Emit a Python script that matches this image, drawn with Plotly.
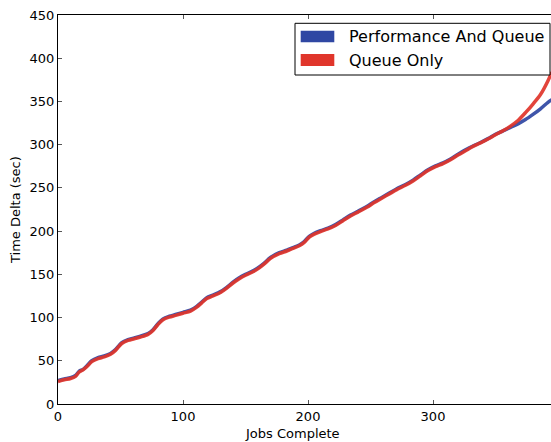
import plotly.graph_objects as go

# Jobs completed (x) and cumulative time delta in seconds for each scheduler
jobs = [0, 5, 10, 14, 17, 20, 23, 27, 32, 37, 42, 46, 51, 56, 61, 66, 72, 76, 80, 84,
        89, 94, 100, 106, 111, 115, 119, 124, 130, 135, 140, 145, 150, 156, 161, 165,
        170, 177, 183, 188, 193, 197, 201, 205, 210, 216, 222, 228, 234, 240, 247, 253,
        259, 265, 271, 278, 284, 290, 296, 302, 308, 314, 320, 326, 332, 338, 344, 350,
        356, 362, 368, 374, 380, 386, 392, 395]

perf_and_queue = [27, 29, 30.5, 33, 38, 40, 44, 50, 53.5, 55.5, 58.5, 63, 71, 74.5, 76.5,
                  78.5, 81.5, 86, 93, 98.5, 101.5, 103.5, 106, 108.5, 113, 118, 123, 126,
                  130, 135, 141, 146, 150, 154, 158.5, 163, 169.5, 175, 178, 181, 184, 188,
                  194, 197.5, 200.5, 203.5, 207.5, 213, 218.5, 223, 228.5, 234, 239, 244,
                  249, 254, 259, 265, 271, 275.5, 279, 283.5, 289, 294, 298.5, 302.5, 307,
                  312, 316, 320, 324, 329, 335, 341.5, 349, 352]

queue_only = [26, 28, 29.5, 32, 37, 39.5, 43, 49, 52.5, 54.5, 57.5, 62, 70, 73.5, 75.5,
              77.5, 80.5, 85, 92, 97.5, 100.5, 102.5, 105, 107.5, 112, 117, 122, 125,
              129, 134, 140, 145, 149, 153, 157.5, 162, 168.5, 174, 177, 180, 183, 187,
              193, 196.5, 199.5, 202.5, 206.5, 212, 217.5, 222, 227.5, 233, 238, 243,
              248, 253, 258, 264, 270, 274.5, 278, 282.5, 288, 293, 298, 302, 306.5,
              311.5, 316, 321.5, 328, 337, 347, 358, 374, 384]

series_names = ["Performance And Queue", "Queue Only"]
colors = ["#2f47a3", "#e0352b"]

x_ticks = [0, 100, 200, 300]
y_ticks = [0, 50, 100, 150, 200, 250, 300, 350, 400, 450]

FONT = "DejaVu Sans"

fig = go.Figure()
for name, ys, col in zip(series_names, [perf_and_queue, queue_only], colors):
    fig.add_trace(go.Scatter(
        x=jobs, y=ys, mode="lines", name=name,
        line=dict(color=col, width=3.5, shape="spline", smoothing=0.8),
        opacity=0.92, showlegend=False,
    ))

W, H = 551, 442
L, R, T, B = 58, 0, 15, 38
pw, ph = W - L - R, H - T - B


def px_x(p):
    return (p - L) / pw


def px_y(p):
    return (H - B - p) / ph


fig.update_layout(
    width=W, height=H,
    margin=dict(l=L, r=R, t=T, b=B),
    paper_bgcolor="white", plot_bgcolor="white",
    font=dict(family=FONT, size=13, color="black"),
    xaxis=dict(
        range=[0, 394.4], tickvals=x_ticks, ticktext=[str(v) for v in x_ticks],
        ticks="inside", ticklen=4, tickcolor="#555", tickwidth=1,
        showline=True, linecolor="black", linewidth=1, mirror="ticks",
        showgrid=False, zeroline=False,
        tickfont=dict(family=FONT, size=13, color="black"),
    ),
    yaxis=dict(
        range=[0, 450], tickvals=y_ticks, ticktext=[str(v) for v in y_ticks],
        ticks="inside", ticklen=4, tickcolor="#555", tickwidth=1,
        showline=True, linecolor="black", linewidth=1,
        showgrid=False, zeroline=False,
        tickfont=dict(family=FONT, size=13, color="black"),
    ),
)

# axis titles
fig.add_annotation(text="Jobs Complete", xref="paper", yref="paper",
                   x=px_x(292.5), y=px_y(433), xanchor="center", yanchor="middle",
                   showarrow=False, font=dict(family=FONT, size=13, color="black"))
fig.add_annotation(text="Time Delta (sec)", xref="paper", yref="paper",
                   x=px_x(16), y=px_y(210), xanchor="center", yanchor="middle",
                   textangle=-90, showarrow=False,
                   font=dict(family=FONT, size=13, color="black"))

# legend box with colour patches
fig.add_shape(type="rect", xref="paper", yref="paper",
              x0=px_x(295), x1=px_x(550), y0=px_y(75), y1=px_y(23.3),
              line=dict(color="black", width=1), fillcolor="white", layer="above")
patch_rows = [(30.7, 42.3, 36.7), (54, 66, 60)]
for (top, bot, mid), name, col in zip(patch_rows, series_names, colors):
    fig.add_shape(type="rect", xref="paper", yref="paper",
                  x0=px_x(300.7), x1=px_x(334.3), y0=px_y(bot), y1=px_y(top),
                  line=dict(width=0), fillcolor=col, layer="above")
    fig.add_annotation(text=name, xref="paper", yref="paper",
                       x=px_x(346.5), y=px_y(mid), xanchor="left", yanchor="middle",
                       showarrow=False, font=dict(family=FONT, size=16, color="black"))

fig.write_html("out.html")
